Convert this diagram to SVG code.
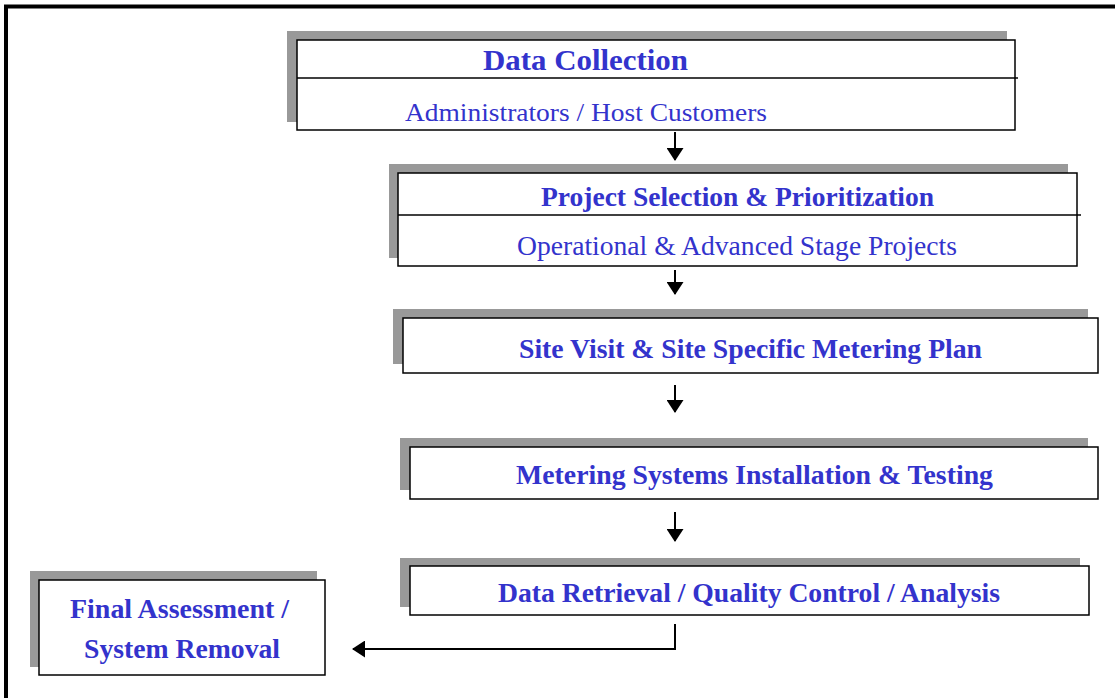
<svg xmlns="http://www.w3.org/2000/svg" width="1115" height="698" viewBox="0 0 1115 698">
<defs>
<style>
.sh{fill:#999999;stroke:none}
.bx{fill:#ffffff;stroke:#000000;stroke-width:1.5}
.dv{stroke:#000000;stroke-width:1.5}
.t{font-family:"Liberation Serif","Times New Roman",serif;fill:#3333cc}
.b{font-weight:bold}
.cn{fill:none;stroke:#000000;stroke-width:2}
</style>
<marker id="ah" markerWidth="13" markerHeight="17" viewBox="0 0 13 17" refX="12" refY="8.5" orient="auto" markerUnits="userSpaceOnUse">
<path d="M0,0 L13,8.5 L0,17 Z" fill="#000000"/>
</marker>
</defs>
<rect x="0" y="0" width="1115" height="698" fill="#ffffff"/>
<path d="M6,698 L6,6.5 L1115,6.5" fill="none" stroke="#000000" stroke-width="4"/>

<g id="n1">
<rect class="sh" x="287" y="31" width="720" height="91"/>
<rect class="bx" x="297" y="40" width="718" height="90"/>
<line class="dv" x1="297" y1="78" x2="1018" y2="78"/>
<text class="t b" x="483" y="70" font-size="30" textLength="205" lengthAdjust="spacingAndGlyphs">Data Collection</text>
<text class="t" x="405" y="121" font-size="26" textLength="362" lengthAdjust="spacingAndGlyphs">Administrators / Host Customers</text>
</g>

<g id="n2">
<rect class="sh" x="389" y="164" width="679" height="94"/>
<rect class="bx" x="398" y="173" width="679" height="93"/>
<line class="dv" x1="398" y1="215" x2="1081" y2="215"/>
<text class="t b" x="541" y="206" font-size="27.5" textLength="393" lengthAdjust="spacingAndGlyphs">Project Selection &amp; Prioritization</text>
<text class="t" x="517" y="255" font-size="27" textLength="440" lengthAdjust="spacingAndGlyphs">Operational &amp; Advanced Stage Projects</text>
</g>

<g id="n3">
<rect class="sh" x="393" y="309" width="695" height="55"/>
<rect class="bx" x="403" y="318" width="695" height="55"/>
<text class="t b" x="519" y="358" font-size="28" textLength="463" lengthAdjust="spacingAndGlyphs">Site Visit &amp; Site Specific Metering Plan</text>
</g>

<g id="n4">
<rect class="sh" x="400" y="438" width="688" height="52"/>
<rect class="bx" x="410" y="447" width="688" height="52"/>
<text class="t b" x="516" y="484" font-size="28" textLength="477" lengthAdjust="spacingAndGlyphs">Metering Systems Installation &amp; Testing</text>
</g>

<g id="n5">
<rect class="sh" x="400" y="558" width="680" height="49"/>
<rect class="bx" x="410" y="566" width="679" height="49"/>
<text class="t b" x="498" y="601.5" font-size="28" textLength="502" lengthAdjust="spacingAndGlyphs">Data Retrieval / Quality Control / Analysis</text>
</g>

<g id="n6">
<rect class="sh" x="30" y="571" width="287" height="96"/>
<rect class="bx" x="39" y="580" width="286" height="95"/>
<text class="t b" x="70" y="618" font-size="27" textLength="219" lengthAdjust="spacingAndGlyphs">Final Assessment /</text>
<text class="t b" x="84" y="658" font-size="27" textLength="196" lengthAdjust="spacingAndGlyphs">System Removal</text>
</g>

<g id="connectors">
<line class="cn" x1="675" y1="132" x2="675" y2="160" marker-end="url(#ah)"/>
<line class="cn" x1="675" y1="270" x2="675" y2="294" marker-end="url(#ah)"/>
<line class="cn" x1="675" y1="385" x2="675" y2="412" marker-end="url(#ah)"/>
<line class="cn" x1="675" y1="512" x2="675" y2="541" marker-end="url(#ah)"/>
<polyline class="cn" points="675,624 675,649 353,649" marker-end="url(#ah)"/>
</g>
</svg>
